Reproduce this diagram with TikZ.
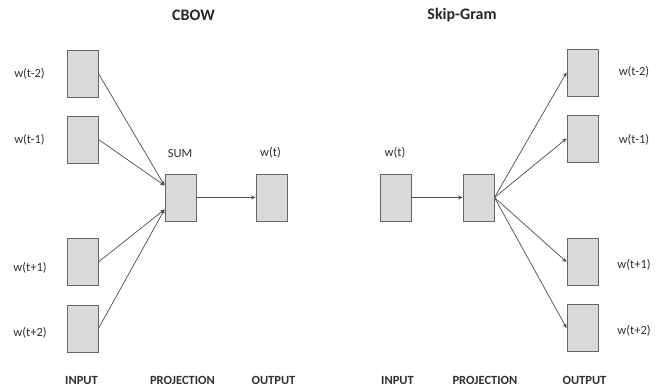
\documentclass[tikz,border=0pt]{standalone}
\usepackage{fontspec}
\setmainfont{Carlito}
\usetikzlibrary{arrows.meta}
\definecolor{boxfill}{HTML}{D9D9D9}
\definecolor{boxline}{HTML}{666666}
\definecolor{txt}{HTML}{303030}
\definecolor{arr}{HTML}{4D4D4D}
\begin{document}
\begin{tikzpicture}[x=1pt,y=-1pt,
  wbox/.style={draw=boxline,fill=boxfill,line width=0.9pt,minimum width=31pt,minimum height=47pt,inner sep=0pt},
  lab/.style={text=txt,font=\fontsize{12.5}{14}\selectfont,inner sep=0pt},
  axis/.style={text=txt,font=\bfseries\fontsize{12.5}{14}\selectfont,inner sep=0pt},
  ttl/.style={text=black!85,font=\bfseries\fontsize{16}{18}\selectfont,inner sep=0pt},
  conn/.style={draw=arr,line width=0.7pt,-{Stealth[length=4.5pt,width=4pt]}}]
\useasboundingbox (0,0) rectangle (663,389);
% ---------- CBOW ----------
\node[ttl] (tcbow) at (193.5,15) {CBOW};
\node[wbox] (i1) at (82.5,73.5) {};
\node[wbox] (i2) at (82.5,139.5) {};
\node[wbox] (i3) at (82.5,262) {};
\node[wbox] (i4) at (82.5,328.5) {};
\node[wbox] (p) at (180.5,197.5) {};
\node[wbox] (o) at (271.5,197.5) {};
\node[lab] (li1) at (29.5,74) {w(t-2)};
\node[lab] (li2) at (29.5,140) {w(t-1)};
\node[lab] (li3) at (30,268) {w(t+1)};
\node[lab] (li4) at (30,333) {w(t+2)};
\node[lab] (lsum) at (180,153) {SUM};
\node[lab] (lwt) at (270.5,153) {w(t)};
\coordinate (pt) at ([yshift=12pt]p.west);
\coordinate (pb) at ([yshift=-12pt]p.west);
\draw[conn] (i1.east) -- (pt);
\draw[conn] (i2.east) -- (pt);
\draw[conn] (i3.east) -- (pb);
\draw[conn] (i4.east) -- (pb);
\draw[conn] (p.east) -- (o.west);
\node[axis] (a1) at (81.5,380) {INPUT};
\node[axis] (a2) at (182.5,380) {PROJECTION};
\node[axis] (a3) at (273.5,380) {OUTPUT};
% ---------- Skip-Gram ----------
\node[ttl] (tsg) at (462,15) {Skip-Gram};
\node[wbox] (si) at (395.5,197.5) {};
\node[wbox] (sp) at (478.5,197.5) {};
\node[wbox] (so1) at (582.5,72.5) {};
\node[wbox] (so2) at (582.5,138.5) {};
\node[wbox] (so3) at (582.5,262) {};
\node[wbox] (so4) at (582.5,328) {};
\node[lab] (lswt) at (395,153) {w(t)};
\node[lab] (ls1) at (634,72) {w(t-2)};
\node[lab] (ls2) at (634,140) {w(t-1)};
\node[lab] (ls3) at (634,265) {w(t+1)};
\node[lab] (ls4) at (634,331) {w(t+2)};
\draw[conn] (si.east) -- (sp.west);
\draw[conn] (sp.east) -- (so1.west);
\draw[conn] (sp.east) -- (so2.west);
\draw[conn] (sp.east) -- (so3.west);
\draw[conn] (sp.east) -- (so4.west);
\node[axis] (b1) at (397.5,380) {INPUT};
\node[axis] (b2) at (485,380) {PROJECTION};
\node[axis] (b3) at (584.5,380) {OUTPUT};
\end{tikzpicture}
\end{document}
